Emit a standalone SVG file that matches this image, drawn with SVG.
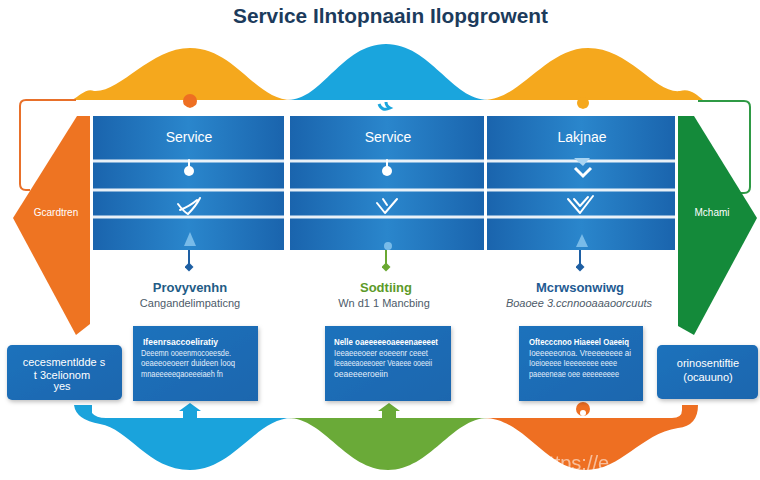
<svg xmlns="http://www.w3.org/2000/svg" width="760" height="480" viewBox="0 0 760 480">
<defs>
<linearGradient id="panel" x1="0" y1="0" x2="1" y2="0">
<stop offset="0" stop-color="#1a64ad"/><stop offset="0.5" stop-color="#2a86cc"/><stop offset="1" stop-color="#1a64ad"/>
</linearGradient>
<linearGradient id="box" x1="0" y1="0" x2="1" y2="1">
<stop offset="0" stop-color="#1e72bc"/><stop offset="1" stop-color="#1a66ae"/>
</linearGradient>
<marker id="dia" viewBox="0 0 10 10" refX="5" refY="5" markerWidth="4.5" markerHeight="4.5" orient="auto">
<path d="M0,5 L5,0 L10,5 L5,10 Z" fill="context-stroke"/>
</marker>
<filter id="sh" x="-10%" y="-10%" width="130%" height="130%"><feDropShadow dx="1" dy="2" stdDeviation="2" flood-color="#000" flood-opacity="0.25"/></filter>
</defs>
<style>
text{font-family:"Liberation Sans",Arial,sans-serif}
.title{font-size:21px;font-weight:bold;fill:#1c3b5c}
.hdr{font-size:14px;fill:#ffffff;text-anchor:middle}
.lbl{font-size:13px;font-weight:bold;text-anchor:middle}
.sub{font-size:11px;fill:#4d5b69;text-anchor:middle}
.bt{font-size:8.5px;fill:#e3eefb}
.btb{font-size:9.5px;fill:#ffffff;font-weight:bold}
.side{font-size:10px;fill:#ffffff;text-anchor:middle}
.sb{font-size:11px;fill:#ffffff;text-anchor:middle}
.sep{stroke:#ffffff;stroke-width:3;opacity:0.9}
.icon{fill:none;stroke:#ffffff;stroke-width:2;stroke-linecap:round;stroke-linejoin:round}
</style>
<rect width="760" height="480" fill="#ffffff"/>
<text class="title" x="233" y="23" textLength="315" lengthAdjust="spacingAndGlyphs">Service Ilntopnaain Ilopgrowent</text>
<g id="waves-top">
<path d="M72,100 C80,96 86,88 94,91 C120,93 150,48 190,48 C235,48 255,100 292,100 Z" fill="#f5a81d"/>
<path d="M288,100 C322,100 342,44 386,44 C430,44 452,100 488,100 Z" fill="#1aa5dd"/>
<path d="M484,100 C520,100 546,48 588,48 C630,48 655,94 680,91 C690,88 697,95 703,100 Z" fill="#f5a81d"/>
</g>
<g id="waves-bottom">
<path d="M74,405 L92,405 L92,413 Q96,418 106,418 L292,418 C256,418 234,470 190,470 C148,470 128,428 100,424 Q76,420 74,405 Z" fill="#1aa3dc"/>
<path d="M288,418 L488,418 C452,418 430,470 388,470 C346,470 324,418 288,418 Z" fill="#6aaa38"/>
<path d="M484,418 L672,418 Q682,418 682,410 L682,405 L698,405 Q698,426 678,428 C640,434 622,470 585,470 C546,470 524,418 484,418 Z" fill="#ee6f22"/>
</g>
<g id="connectors" fill="none">
<path d="M76,100 L26,100 Q20,100 20,106 L20,184 Q20,190 26,190 L30,190" stroke="#e8702a" stroke-width="2"/>
<path d="M698,101 L744,101 Q750,101 750,107 L750,187 Q750,193 744,193 L740,193" stroke="#2f9a45" stroke-width="2"/>
<line x1="189" y1="250" x2="189" y2="267" stroke="#1e5fa3" stroke-width="2" marker-end="url(#dia)"/>
<line x1="386" y1="250" x2="386" y2="267" stroke="#6aa832" stroke-width="2" marker-end="url(#dia)"/>
<line x1="580" y1="250" x2="580" y2="267" stroke="#1e5fa3" stroke-width="2" marker-end="url(#dia)"/>
<circle cx="190" cy="101" r="7" fill="#ee6f22"/>
<path d="M184,106 Q190,112 196,106" stroke="#ffffff" stroke-width="2"/>
<path d="M379,104 Q382,112 390,108 Q386,106 386,102" stroke="#1aa5dd" stroke-width="3"/>
<circle cx="583" cy="103" r="6" fill="#f5a81d"/>
<path d="M578,108 Q583,112 588,108" stroke="#ffffff" stroke-width="2"/>
<path d="M183,418 L183,411 L179,411 L190,403 L201,411 L197,411 L197,418 Z" fill="#1aa3dc"/>
<path d="M382,418 L382,411 L378,411 L389,403 L400,411 L396,411 L396,418 Z" fill="#6aaa38"/>
<circle cx="583" cy="409" r="7" fill="#ee6f22"/>
<circle cx="583" cy="413" r="3" fill="#ffffff"/>
</g>
<g id="left-chevron">
<path d="M77,116 L90,116 L90,324 L76,335 L13,218 Z" fill="#ee7422"/>
<text class="side" x="56" y="216">Gcardtren</text>
</g>
<g id="right-chevron">
<path d="M678,116 L694,116 L757,218 L694,335 L678,326 Z" fill="#148a3a"/>
<text class="side" x="712" y="216">Mchami</text>
</g>
<g id="col1">
<rect x="93" y="116" width="191" height="134" fill="url(#panel)"/>
<line class="sep" x1="93" y1="161" x2="284" y2="161"/>
<line class="sep" x1="93" y1="190" x2="284" y2="190"/>
<line class="sep" x1="93" y1="217" x2="284" y2="217"/>
<text class="hdr" x="189" y="142">Service</text>
<path class="icon" d="M189,160 L189,167"/><circle cx="189" cy="171" r="5" fill="#ffffff"/>
<path class="icon" d="M178,204 Q184,212 188,214 Q196,206 200,198 M180,210 Q190,206 197,200"/>
<path d="M184,246 L190,232 L196,246 Z" fill="#8cc8f0" opacity="0.8"/>
</g>
<g id="col2">
<rect x="290" y="116" width="194" height="134" fill="url(#panel)"/>
<line class="sep" x1="290" y1="161" x2="484" y2="161"/>
<line class="sep" x1="290" y1="190" x2="484" y2="190"/>
<line class="sep" x1="290" y1="217" x2="484" y2="217"/>
<text class="hdr" x="388" y="142">Service</text>
<path class="icon" d="M387,160 L387,167"/><circle cx="387" cy="171" r="5" fill="#ffffff"/>
<path class="icon" d="M377,203 L385,213 L397,199 M383,199 L387,205"/>
<circle cx="388" cy="246" r="4" fill="#8cc8f0" opacity="0.8"/>
</g>
<g id="col3">
<rect x="487" y="116" width="188" height="134" fill="url(#panel)"/>
<line class="sep" x1="487" y1="161" x2="675" y2="161"/>
<line class="sep" x1="487" y1="190" x2="675" y2="190"/>
<line class="sep" x1="487" y1="217" x2="675" y2="217"/>
<text class="hdr" x="582" y="142">Lakjnae</text>
<path d="M574,158 L590,158 L583,166 Z" fill="#a8d4f2"/>
<path d="M575,168 L583,176 L591,168" fill="none" stroke="#ffffff" stroke-width="3"/>
<path class="icon" d="M568,199 L580,213 L593,196 M574,199 L580,206 L588,197"/>
<path d="M576,247 L582,234 L588,247 Z" fill="#8cc8f0" opacity="0.8"/>
</g>
<g id="label1">
<text class="lbl" x="190" y="292" fill="#1f5c86">Provyvenhn</text>
<text class="sub" x="190" y="307">Cangandelimpaticng</text>
</g>
<g id="label2">
<text class="lbl" x="386" y="292" fill="#5c9a28">Sodtiing</text>
<text class="sub" x="384" y="307">Wn d1 1 Mancbing</text>
</g>
<g id="label3">
<text class="lbl" x="580" y="292" fill="#1e5a92">Mcrwsonwiwg</text>
<text class="sub" x="579" y="307" font-style="italic">Boaoee 3.ccnnooaaaoorcuuts</text>
</g>
<g id="box1">
<rect x="133" y="326" width="125" height="75" fill="url(#box)" filter="url(#sh)"/>
<text class="btb" x="143" y="345" textLength="75" lengthAdjust="spacingAndGlyphs">Ifeenrsaccoeliratiy</text>
<text class="bt" x="141" y="356" textLength="90" lengthAdjust="spacingAndGlyphs">Deeemn ooeenmocoeesde.</text>
<text class="bt" x="141" y="366" textLength="94" lengthAdjust="spacingAndGlyphs">oeaeeoeoeerr duideen looq</text>
<text class="bt" x="141" y="377" textLength="82" lengthAdjust="spacingAndGlyphs">mnaeeeeeqaoeeeiaeh fn</text>
</g>
<g id="box2">
<rect x="325" y="326" width="126" height="75" fill="url(#box)" filter="url(#sh)"/>
<text class="btb" x="334" y="345" textLength="104" lengthAdjust="spacingAndGlyphs">Nelle oaeeeeeoaeeenaeeeet</text>
<text class="bt" x="334" y="356" textLength="94" lengthAdjust="spacingAndGlyphs">Ieeaeeeoeer eoeeenr ceeet</text>
<text class="bt" x="334" y="366" textLength="98" lengthAdjust="spacingAndGlyphs">Ieeaeeaoeeoeer Veaeee ooeeii</text>
<text class="bt" x="334" y="377" textLength="54" lengthAdjust="spacingAndGlyphs">oeaeeeeroeiin</text>
</g>
<g id="box3">
<rect x="519" y="326" width="124" height="75" fill="url(#box)" filter="url(#sh)"/>
<text class="btb" x="529" y="345" textLength="100" lengthAdjust="spacingAndGlyphs">Oftecccnoo Hiaeeel Oaeeiq</text>
<text class="bt" x="529" y="356" textLength="102" lengthAdjust="spacingAndGlyphs">Ioeeeeeonoa. Vreeeeeeee ai</text>
<text class="bt" x="529" y="366" textLength="88" lengthAdjust="spacingAndGlyphs">Ioeioeeee Ieeeeeeee eeee</text>
<text class="bt" x="529" y="377" textLength="90" lengthAdjust="spacingAndGlyphs">paeeeneae oee eeeeeeeee</text>
</g>
<g id="box-left">
<rect x="7" y="345" width="115" height="55" rx="5" fill="url(#box)" filter="url(#sh)"/>
<text class="sb" x="64" y="366">cecesmentldde  s</text>
<text class="sb" x="62" y="379">t  3celionom</text>
<text class="sb" x="62" y="390" font-size="8">yes</text>
</g>
<g id="box-right">
<rect x="657" y="345" width="101" height="54" rx="5" fill="url(#box)" filter="url(#sh)"/>
<text class="sb" x="708" y="367">orinosentiftie</text>
<text class="sb" x="708" y="381">(ocauuno)</text>
</g>
<text x="538" y="470" font-size="20" fill="#ffffff" opacity="0.55">https://e</text>
</svg>
